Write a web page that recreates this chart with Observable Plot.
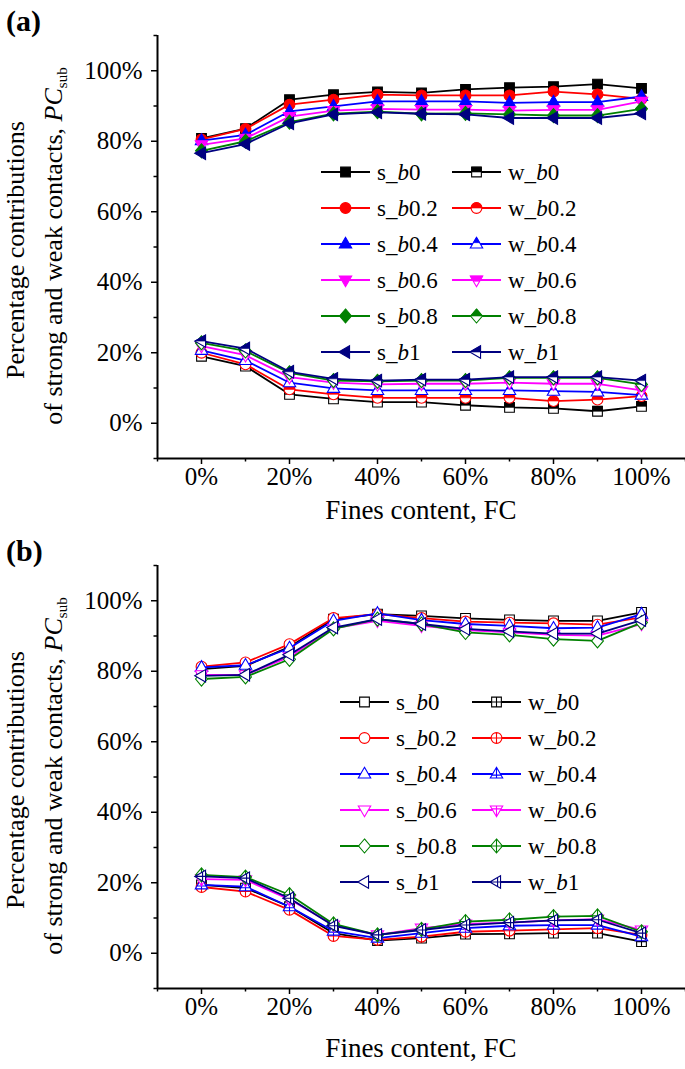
<!DOCTYPE html>
<html><head><meta charset="utf-8">
<script src="https://cdn.jsdelivr.net/npm/d3@7"></script>
<script src="https://cdn.jsdelivr.net/npm/@observablehq/plot@0.6"></script>
<style>
body{margin:0;background:#fff;}
#chart{width:685px;}
#chart svg{display:block;}
</style></head><body><div id="chart"></div>
<script>
const fc = [0,10,20,30,40,50,60,70,80,90,100];
const bLabels = ["0","0.2","0.4","0.6","0.8","1"];
const colors = ["#000000","#ff0000","#0000ff","#ff00ff","#008000","#000080"];
const xTicks = [0,20,40,60,80,100];
const xMinor = [-10,10,30,50,70,90,110];
const yTicks = [0,20,40,60,80,100];
const yMinor = [-10,10,30,50,70,90,110];

// Panel (a)
const aS_b0  = [80.8, 83.6, 91.8, 93.2, 94.0, 93.7, 94.7, 95.2, 95.5, 96.2, 95.0];
const aS_b02 = [80.5, 83.5, 90.4, 91.8, 93.2, 93.0, 93.0, 93.0, 94.1, 93.3, 92.0];
const aS_b04 = [80.2, 81.8, 88.5, 89.9, 91.3, 91.3, 91.3, 90.9, 91.1, 91.1, 92.7];
const aS_b06 = [79.0, 80.8, 87.0, 88.7, 89.2, 89.0, 89.0, 88.7, 88.9, 88.9, 91.3];
const aS_b08 = [77.3, 80.0, 85.4, 87.8, 88.4, 87.8, 87.9, 87.6, 87.3, 87.3, 89.2];
const aS_b1  = [76.6, 79.2, 85.1, 87.6, 88.2, 87.8, 87.6, 86.6, 86.6, 86.6, 87.9];
const aW_b0  = [19.0, 16.2, 8.2, 6.9, 6.0, 6.0, 5.1, 4.5, 4.2, 3.4, 4.8];
const aW_b02 = [20.0, 16.7, 9.6, 8.2, 7.2, 7.2, 7.2, 7.2, 6.3, 6.7, 7.7];
const aW_b04 = [20.7, 17.8, 11.5, 9.9, 9.3, 9.3, 9.3, 9.3, 9.1, 8.9, 8.0];
const aW_b06 = [21.9, 19.3, 13.1, 11.5, 11.0, 11.2, 11.2, 11.5, 11.2, 11.2, 9.3];
const aW_b08 = [22.8, 20.5, 14.3, 12.1, 11.9, 12.1, 12.1, 12.9, 12.9, 12.9, 11.0];
const aW_b1  = [23.3, 21.2, 14.6, 12.6, 12.1, 12.4, 12.4, 13.1, 13.1, 13.1, 12.1];

// Panel (b)
const bS_b0  = [80.6, 81.5, 86.9, 94.8, 96.2, 95.7, 95.0, 94.6, 94.3, 94.3, 96.7];
const bS_b02 = [81.3, 82.5, 87.7, 95.1, 96.2, 95.1, 94.1, 93.8, 93.6, 93.2, 95.3];
const bS_b04 = [81.1, 81.7, 86.6, 94.3, 96.4, 94.5, 93.4, 92.9, 92.2, 92.4, 96.2];
const bS_b06 = [79.0, 79.0, 84.1, 92.2, 94.3, 92.9, 91.7, 91.0, 90.3, 90.1, 93.4];
const bS_b08 = [77.8, 78.4, 83.4, 92.0, 94.8, 93.4, 91.0, 90.3, 89.1, 88.6, 93.8];
const bS_b1  = [78.7, 79.0, 84.7, 92.4, 94.8, 93.4, 92.0, 91.3, 90.7, 90.7, 94.5];
const bW_b0  = [19.4, 18.5, 13.2, 5.7, 3.6, 4.3, 5.4, 5.5, 5.7, 5.7, 3.3];
const bW_b02 = [18.8, 17.5, 12.3, 4.9, 3.8, 4.7, 6.1, 6.4, 6.8, 7.1, 5.2];
const bW_b04 = [19.4, 18.9, 13.2, 6.3, 4.3, 5.7, 7.1, 7.8, 8.0, 8.0, 4.7];
const bW_b06 = [21.0, 20.8, 15.3, 8.0, 5.2, 7.1, 8.3, 8.7, 9.3, 9.7, 6.6];
const bW_b08 = [22.2, 21.6, 16.6, 8.3, 5.2, 6.8, 9.0, 9.5, 10.4, 10.6, 6.1];
const bW_b1  = [21.8, 21.3, 15.6, 7.8, 5.2, 6.6, 8.0, 8.7, 9.3, 9.5, 5.7];

const aStrong = [aS_b0, aS_b02, aS_b04, aS_b06, aS_b08, aS_b1];
const aWeak   = [aW_b0, aW_b02, aW_b04, aW_b06, aW_b08, aW_b1];
const bStrong = [bS_b0, bS_b02, bS_b04, bS_b06, bS_b08, bS_b1];
const bWeak   = [bW_b0, bW_b02, bW_b04, bW_b06, bW_b08, bW_b1];

const FONT = "'Liberation Serif','Times New Roman',serif";

// ---- custom symbols ----
function shapePts(k, r) {
  switch (k) {
    case 0: { const h = 0.9 * r; return [[-h,-h],[h,-h],[h,h],[-h,h]]; }
    case 2: return [[0,-1.25*r],[1.15*r,0.75*r],[-1.15*r,0.75*r]];
    case 3: return [[0,1.25*r],[1.15*r,-0.75*r],[-1.15*r,-0.75*r]];
    case 4: return [[0,-1.3*r],[1.1*r,0],[0,1.3*r],[-1.1*r,0]];
    case 5: return [[-1.25*r,0],[0.75*r,-1.15*r],[0.75*r,1.15*r]];
  }
  return null;
}
function poly(ctx, pts) { ctx.moveTo(pts[0][0], pts[0][1]); for (let i = 1; i < pts.length; i++) ctx.lineTo(pts[i][0], pts[i][1]); ctx.closePath(); }
function fullSym(k) {
  return {draw(ctx, size) {
    const r = Math.sqrt(size / Math.PI);
    if (k === 1) { ctx.moveTo(r, 0); ctx.arc(0, 0, r, 0, 2 * Math.PI); ctx.closePath(); }
    else poly(ctx, shapePts(k, r));
  }};
}
function halfSym(k) {
  return {draw(ctx, size) {
    const r = Math.sqrt(size / Math.PI);
    switch (k) {
      case 0: { const h = 0.9 * r; poly(ctx, [[-h,-h],[h,-h],[h,0],[-h,0]]); break; }
      case 1: ctx.moveTo(-r, 0); ctx.arc(0, 0, r, Math.PI, 2 * Math.PI); ctx.closePath(); break;
      case 2: poly(ctx, [[0,-1.25*r],[0.575*r,-0.25*r],[-0.575*r,-0.25*r]]); break;
      case 3: poly(ctx, [[-1.15*r,-0.75*r],[1.15*r,-0.75*r],[0.575*r,0.25*r],[-0.575*r,0.25*r]]); break;
      case 4: poly(ctx, [[0,-1.3*r],[1.1*r,0],[-1.1*r,0]]); break;
      case 5: poly(ctx, [[-1.25*r,0],[0.75*r,-1.15*r],[0.75*r,0]]); break;
    }
  }};
}
function crossSym(k) {
  return {draw(ctx, size) {
    const r = Math.sqrt(size / Math.PI);
    fullSym(k).draw(ctx, size);
    let v, hz;
    switch (k) {
      case 0: { const h = 0.9 * r; v = [0,-h,0,h]; hz = [-h,0,h,0]; break; }
      case 1: v = [0,-r,0,r]; hz = [-r,0,r,0]; break;
      case 2: v = [0,-1.25*r,0,0.75*r]; hz = [-0.83*r,0.2*r,0.83*r,0.2*r]; break;
      case 3: v = [0,1.25*r,0,-0.75*r]; hz = [-0.83*r,-0.2*r,0.83*r,-0.2*r]; break;
      case 4: v = [0,-1.3*r,0,1.3*r]; hz = [-1.1*r,0,1.1*r,0]; break;
      case 5: v = [0.2*r,-0.83*r,0.2*r,0.83*r]; hz = [-1.25*r,0,0.75*r,0]; break;
    }
    ctx.moveTo(v[0], v[1]); ctx.lineTo(v[2], v[3]);
    ctx.moveTo(hz[0], hz[1]); ctx.lineTo(hz[2], hz[3]);
  }};
}

const R = 5.4;
function dotMarks(data, k, color, style) {
  const base = {x: "x", y: "y", r: R, strokeWidth: 1.1};
  if (style === "filled") return [Plot.dot(data, {...base, symbol: fullSym(k), fill: color, stroke: color})];
  if (style === "half") return [
    Plot.dot(data, {...base, symbol: fullSym(k), fill: "white", stroke: color}),
    Plot.dot(data, {...base, symbol: halfSym(k), fill: color, stroke: color, strokeWidth: 0.6})
  ];
  if (style === "open") return [Plot.dot(data, {...base, symbol: fullSym(k), fill: "white", stroke: color})];
  return [Plot.dot(data, {...base, symbol: crossSym(k), fill: "white", stroke: color})];
}

function makePanel(strong, weak, height, label, sStyle, wStyle, legX, titleY) {
  const marks = [];
  const groups = [[strong, sStyle], [weak, wStyle]];
  for (const [set, style] of groups) {
    set.forEach((vals, k) => {
      const data = fc.map((x, i) => ({x, y: vals[i]}));
      marks.push(Plot.line(data, {x: "x", y: "y", stroke: colors[k], strokeWidth: 1.8}));
      marks.push(...dotMarks(data, k, colors[k], style));
    });
  }
  const plot = Plot.plot({
    width: 685, height,
    marginLeft: 157, marginRight: 0, marginTop: 35, marginBottom: height - 458,
    x: {domain: [-10, 110], axis: null},
    y: {domain: [-10, 110], axis: null},
    style: {fontFamily: FONT, fontSize: "25px", color: "#000", background: "#fff", overflow: "visible"},
    marks: [
      Plot.axisX(xTicks, {anchor: "bottom", tickSize: 6, tickPadding: 3, strokeWidth: 1.5, tickFormat: d => d + "%", fontSize: 25, label: null}),
      Plot.axisX(xMinor, {anchor: "bottom", tickSize: 3.5, strokeWidth: 1.5, tickFormat: () => "", label: null}),
      Plot.axisY(yTicks, {anchor: "left", tickSize: 6, tickPadding: 9, strokeWidth: 1.5, tickFormat: d => d + "%", fontSize: 25, label: null}),
      Plot.axisY(yMinor, {anchor: "left", tickSize: 3.5, strokeWidth: 1.5, tickFormat: () => "", label: null}),
      Plot.ruleX([-10], {strokeWidth: 2}),
      Plot.ruleY([-10], {strokeWidth: 2}),
      ...marks
    ]
  });
  const svg = d3.select(plot);
  // panel label
  svg.append("text").attr("x", 6).attr("y", 31).attr("text-anchor", "start").attr("font-family", FONT)
    .attr("font-weight", "bold").attr("font-size", 30).text(label);
  // y title
  const yt = svg.append("g").attr("font-family", FONT).attr("font-size", 26).attr("text-anchor", "middle");
  yt.append("text").attr("transform", "translate(24,250) rotate(-90)").text("Percentage contributions");
  const t2 = yt.append("text").attr("transform", "translate(62,246) rotate(-90)");
  t2.append("tspan").text("of strong and weak contacts, ");
  t2.append("tspan").attr("font-style", "italic").text("PC");
  t2.append("tspan").attr("font-size", 15).attr("dy", 5).text("sub");
  // x title
  svg.append("text").attr("x", 421).attr("y", titleY).attr("font-family", FONT).attr("font-size", 27)
    .attr("text-anchor", "middle").text("Fines content, FC");
  // legend
  const lg = svg.append("g").attr("font-family", FONT).attr("font-size", 23).attr("text-anchor", "start");
  const cols = [{pre: "s_", style: sStyle, x0: legX[0]}, {pre: "w_", style: wStyle, x0: legX[1]}];
  const area = Math.PI * R * R;
  cols.forEach(c => {
    bLabels.forEach((b, k) => {
      const y = 172 + 36 * k;
      const g = lg.append("g").attr("transform", `translate(${c.x0},${y})`);
      g.append("line").attr("x1", 0).attr("x2", 49).attr("stroke", colors[k]).attr("stroke-width", 1.8);
      const mx = 24.5;
      const p = d => g.append("path").attr("transform", `translate(${mx},0)`).attr("d", d);
      if (c.style === "filled") {
        p(d3.symbol(fullSym(k), area)()).attr("fill", colors[k]).attr("stroke", colors[k]).attr("stroke-width", 1.1);
      } else if (c.style === "half") {
        p(d3.symbol(fullSym(k), area)()).attr("fill", "white").attr("stroke", colors[k]).attr("stroke-width", 1.1);
        p(d3.symbol(halfSym(k), area)()).attr("fill", colors[k]).attr("stroke", colors[k]).attr("stroke-width", 0.6);
      } else if (c.style === "open") {
        p(d3.symbol(fullSym(k), area)()).attr("fill", "white").attr("stroke", colors[k]).attr("stroke-width", 1.1);
      } else {
        p(d3.symbol(crossSym(k), area)()).attr("fill", "white").attr("stroke", colors[k]).attr("stroke-width", 1.1);
      }
      const t = g.append("text").attr("x", 56).attr("y", 8);
      t.append("tspan").text(c.pre);
      t.append("tspan").attr("font-style", "italic").text("b");
      t.append("tspan").text(b);
    });
  });
  return plot;
}

const chart = document.getElementById("chart");
chart.appendChild(makePanel(aStrong, aWeak, 530, "(a)", "filled", "half", [321, 452], 519));
chart.appendChild(makePanel(bStrong, bWeak, 539, "(b)", "open", "cross", [340, 472], 527));
</script>
</body></html>
